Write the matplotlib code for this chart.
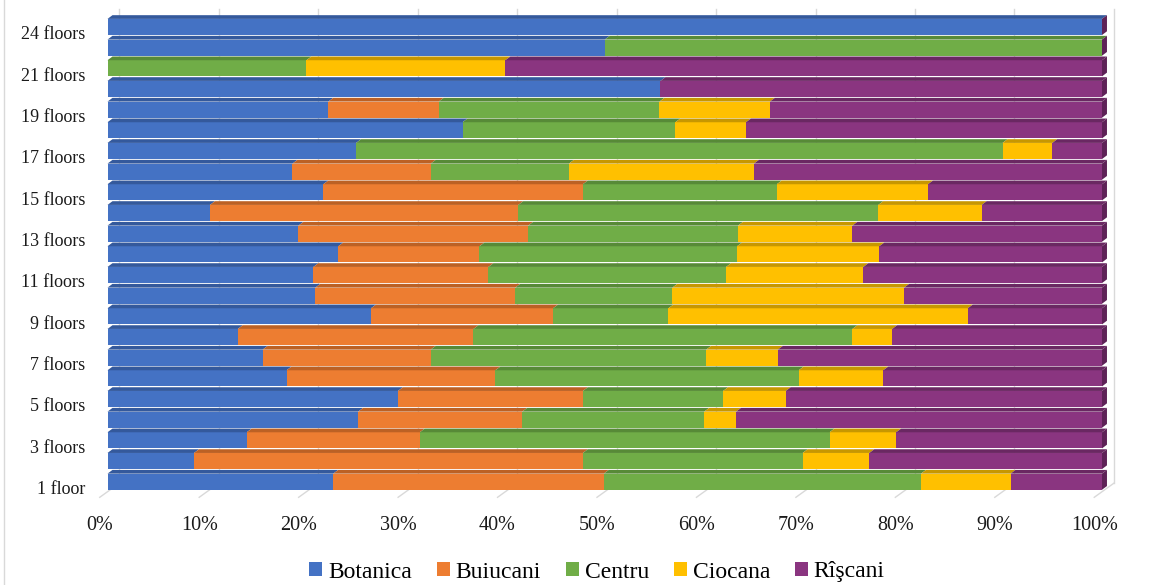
import matplotlib
matplotlib.use("Agg")
import matplotlib.pyplot as plt
from matplotlib.patches import Polygon, Patch
from matplotlib.lines import Line2D
import matplotlib.transforms as mtransforms

# ---------------- data ----------------
categories = ["1 floor", "2 floors", "3 floors", "4 floors", "5 floors", "6 floors",
              "7 floors", "8 floors", "9 floors", "10 floors", "11 floors", "12 floors",
              "13 floors", "14 floors", "15 floors", "16 floors", "17 floors", "18 floors",
              "19 floors", "20 floors", "21 floors", "22 floors", "24 floors"]
series_names = ["Botanica", "Buiucani", "Centru", "Ciocana", "Rîşcani"]

botanica = [22.7, 8.7, 14.0, 25.2, 29.2, 18.0, 15.6, 13.1, 26.5, 20.9, 20.7, 23.2,
            19.2, 10.3, 21.7, 18.6, 25.0, 35.7, 22.2, 55.6, 0.0, 50.0, 100.0]
buiucani = [27.2, 39.1, 17.4, 16.5, 18.6, 21.0, 16.9, 23.7, 18.3, 20.1, 17.6, 14.2,
            23.1, 31.0, 26.1, 13.9, 0.0, 0.0, 11.1, 0.0, 0.0, 0.0, 0.0]
centru = [31.9, 22.1, 41.2, 18.3, 14.1, 30.5, 27.7, 38.1, 11.6, 15.8, 23.9, 25.9,
          21.1, 36.2, 19.5, 13.9, 65.0, 21.4, 22.2, 0.0, 20.0, 50.0, 0.0]
ciocana = [9.0, 6.7, 6.7, 3.2, 6.3, 8.5, 7.2, 4.0, 30.1, 23.3, 13.8, 14.3,
           11.5, 10.4, 15.2, 18.6, 5.0, 7.1, 11.1, 0.0, 20.0, 0.0, 0.0]
riscani = [9.2, 23.4, 20.7, 36.8, 31.8, 22.0, 32.6, 21.1, 13.5, 19.9, 24.0, 22.4,
           25.1, 12.1, 17.5, 35.0, 5.0, 35.8, 33.4, 44.4, 60.0, 0.0, 0.0]
series_values = [botanica, buiucani, centru, ciocana, riscani]

tick_values = [0, 10, 20, 30, 40, 50, 60, 70, 80, 90, 100]
tick_labels = [f"{v}%" for v in tick_values]

# ---------------- style ----------------
front_colors = ["#4472C4", "#ED7D31", "#70AD47", "#FFC000", "#8A3580"]
top_colors = ["#34599C", "#BC6124", "#578A37", "#C79700", "#6A2862"]
side_color = "#5E2257"
grid_color = "#d9d9d9"

plt.rcParams['font.family'] = ['Liberation Serif', 'DejaVu Serif']

W, H = 1169, 585
fig = plt.figure(figsize=(W / 100, H / 100), dpi=100)

# pixel geometry of the front faces
x0px, pxper = 107.5, 9.945
y0px, pitch = 481.7, 20.67
xlim = (-1.0, 102.0)
ylim = (-0.6, 22.9)
left_px = x0px + xlim[0] * pxper
right_px = x0px + xlim[1] * pxper
top_px = y0px - ylim[1] * pitch
bot_px = y0px - ylim[0] * pitch
ax = fig.add_axes([left_px / W, 1 - bot_px / H, (right_px - left_px) / W, (bot_px - top_px) / H])
ax.set_xlim(xlim)
ax.set_ylim(ylim)
ax.axis('off')

bar_h = 0.78
ddx = 0.5
ddy = 0.18
back_dx = 1.2

# back wall gridlines and floor lines
for v in tick_values:
    ax.plot([v + back_dx, v + back_dx], [-0.07, 22.87], color=grid_color, lw=1.0,
            zorder=0, clip_on=False)
    ax.plot([v - 0.78, v + back_dx], [-0.755, -0.07], color=grid_color, lw=1.0,
            zorder=0, clip_on=False)

# stacked 3D-looking bars
for i in range(len(categories)):
    left = 0.0
    for s, vals in enumerate(series_values):
        w = vals[i]
        if w > 0:
            ax.barh(i, w, left=left, height=bar_h, color=front_colors[s], lw=0, zorder=2)
            yt = i + bar_h / 2
            ax.add_patch(Polygon([(left, yt), (left + w, yt), (left + w + ddx, yt + ddy),
                                  (left + ddx, yt + ddy)], closed=True,
                                 facecolor=top_colors[s], lw=0, zorder=2, clip_on=False))
        left += w
    yb = i - bar_h / 2
    yt = i + bar_h / 2
    ax.add_patch(Polygon([(100, yb), (100 + ddx, yb + ddy), (100 + ddx, yt + ddy), (100, yt)],
                         closed=True, facecolor=side_color, lw=0, zorder=2, clip_on=False))

# category labels (every other one shown)
trans_y = mtransforms.blended_transform_factory(fig.transFigure, ax.transData)
for i, lab in enumerate(categories):
    if i % 2 == 0:
        ax.text(85 / W, i - 0.595, lab, ha='right', va='baseline', fontsize=13,
                transform=trans_y, color='#1a1a1a')

# value axis labels
trans_x = mtransforms.blended_transform_factory(ax.transData, fig.transFigure)
for v, lab in zip(tick_values, tick_labels):
    ax.text(v - 0.78, 1 - 530 / H, lab, ha='center', va='baseline', fontsize=14.5,
            transform=trans_x, color='#1a1a1a')

# legend
handles = [Patch(facecolor=c, edgecolor='none') for c in front_colors]
fig.legend(handles, series_names, loc='center', bbox_to_anchor=(597 / W, 1 - 572 / H),
           ncol=5, frameon=False, fontsize=17, handlelength=0.55, handleheight=0.55,
           handletextpad=0.25, columnspacing=1.05, borderaxespad=0, borderpad=0)

# chart border (left)
fig.add_artist(Line2D([4 / W, 4 / W], [0, 1], color=grid_color, lw=1.0))

fig.savefig("out.png", dpi=100)
